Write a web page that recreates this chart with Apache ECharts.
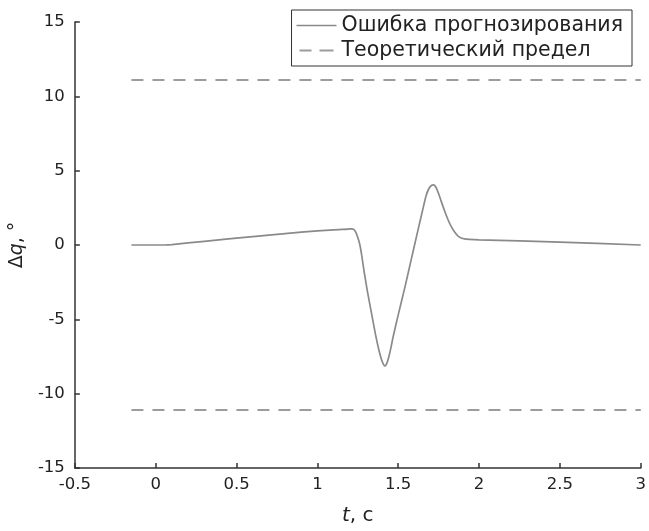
<!DOCTYPE html>
<html>
<head>
<meta charset="utf-8">
<script src="https://cdn.jsdelivr.net/npm/echarts@6/dist/echarts.min.js"></script>
<style>html,body{margin:0;padding:0;background:#fff;width:100%;height:100%;overflow:hidden}#c{width:649px;height:531px}</style>
</head>
<body>
<div id="c"></div>
<script>
// Data
const tErr = [-0.15, 0.06, 0.1, 0.3, 0.6, 0.9, 1.1, 1.19, 1.21, 1.225, 1.238, 1.25, 1.262, 1.275, 1.29, 1.31, 1.335, 1.36, 1.38, 1.395, 1.408, 1.418, 1.428, 1.44, 1.455, 1.47, 1.50, 1.54, 1.58, 1.62, 1.65, 1.672, 1.69, 1.705, 1.72, 1.735, 1.75, 1.767, 1.79, 1.81, 1.83, 1.85, 1.87, 1.89, 1.91, 1.94, 2.0, 2.5, 3.0];
const err  = [0, 0, 0.03, 0.25, 0.56, 0.86, 1.02, 1.07, 1.09, 1.05, 0.85, 0.5, 0.05, -0.75, -1.85, -3.15, -4.6, -6.05, -7.05, -7.65, -8.02, -8.15, -8.0, -7.6, -6.9, -6.1, -4.7, -2.9, -1.0, 0.9, 2.3, 3.3, 3.8, 4.0, 4.05, 3.85, 3.45, 2.9, 2.2, 1.65, 1.2, 0.85, 0.6, 0.47, 0.41, 0.38, 0.35, 0.2, 0.0];
const tLimit = [-0.15, 3.0];
const limitUpper = [11.1, 11.1];
const limitLower = [-11.1, -11.1];
const xTicks = {min: -0.5, max: 3, step: 0.5};
const yTicks = {min: -15, max: 15, step: 5};
const seriesNames = ['Ошибка прогнозирования', 'Теоретический предел'];

const zip = (a, b) => a.map((v, i) => [v, b[i]]);
const font = 'DejaVu Sans';
const errColor = '#8a8a8a';
const limColor = '#9c9c9c';
const chart = echarts.init(document.getElementById('c'));
chart.setOption({
  animation: false,
  backgroundColor: '#fff',
  grid: {left: 72, right: 6, top: 22, bottom: 56, containLabel: false},
  legend: {
    orient: 'vertical', right: 17, top: 10,
    data: [
      {name: seriesNames[0], icon: 'path://M0,0h40v1.5h-40z', itemStyle: {color: errColor, borderWidth: 0}},
      {name: seriesNames[1], icon: 'path://M0,0h12v2h-12z M20,0h14v2h-14z', itemStyle: {color: limColor, borderWidth: 0}}
    ],
    itemWidth: 40, itemHeight: 2, itemGap: 4,
    padding: [5, 9, 5, 5],
    borderColor: '#333', borderWidth: 1, backgroundColor: '#fff',
    textStyle: {fontFamily: font, fontSize: 20.5, color: '#222'}
  },
  xAxis: {
    type: 'value', min: xTicks.min, max: xTicks.max, interval: xTicks.step,
    name: '{i|t}, с', nameLocation: 'middle', nameGap: 38,
    nameTextStyle: {fontFamily: font, fontSize: 20, color: '#222',
      rich: {i: {fontFamily: font, fontSize: 20, fontStyle: 'italic', color: '#222'}}},
    axisLine: {show: true, onZero: false, lineStyle: {color: '#333', width: 1.5}},
    axisTick: {show: true, inside: true, length: 5, lineStyle: {color: '#333', width: 1.5}},
    axisLabel: {fontFamily: font, fontSize: 16.5, color: '#222', margin: 8},
    splitLine: {show: false}
  },
  yAxis: {
    type: 'value', min: yTicks.min, max: yTicks.max, interval: yTicks.step,
    name: '{n|Δ}{i|q}, °', nameLocation: 'middle', nameGap: 40,
    nameTextStyle: {fontFamily: font, fontSize: 19, color: '#222',
      rich: {n: {fontFamily: font, fontSize: 19, color: '#222'}, i: {fontFamily: font, fontSize: 19, fontStyle: 'italic', color: '#222'}}},
    axisLine: {show: true, onZero: false, lineStyle: {color: '#333', width: 1.5}},
    axisTick: {show: true, inside: true, length: 5, lineStyle: {color: '#333', width: 1.5}},
    axisLabel: {fontFamily: font, fontSize: 16.5, color: '#222', margin: 10},
    splitLine: {show: false}
  },
  series: [
    {name: seriesNames[0], type: 'line', data: zip(tErr, err), smooth: 0.25, symbol: 'none',
     lineStyle: {color: errColor, width: 1.7}, itemStyle: {color: errColor}},
    {name: seriesNames[1], type: 'line', data: zip(tLimit, limitUpper), symbol: 'none',
     lineStyle: {color: limColor, width: 2, type: [12, 9]}, itemStyle: {color: limColor}},
    {name: seriesNames[1], type: 'line', data: zip(tLimit, limitLower), symbol: 'none',
     lineStyle: {color: limColor, width: 2, type: [12, 9]}, itemStyle: {color: limColor}}
  ]
});
</script>
</body>
</html>
